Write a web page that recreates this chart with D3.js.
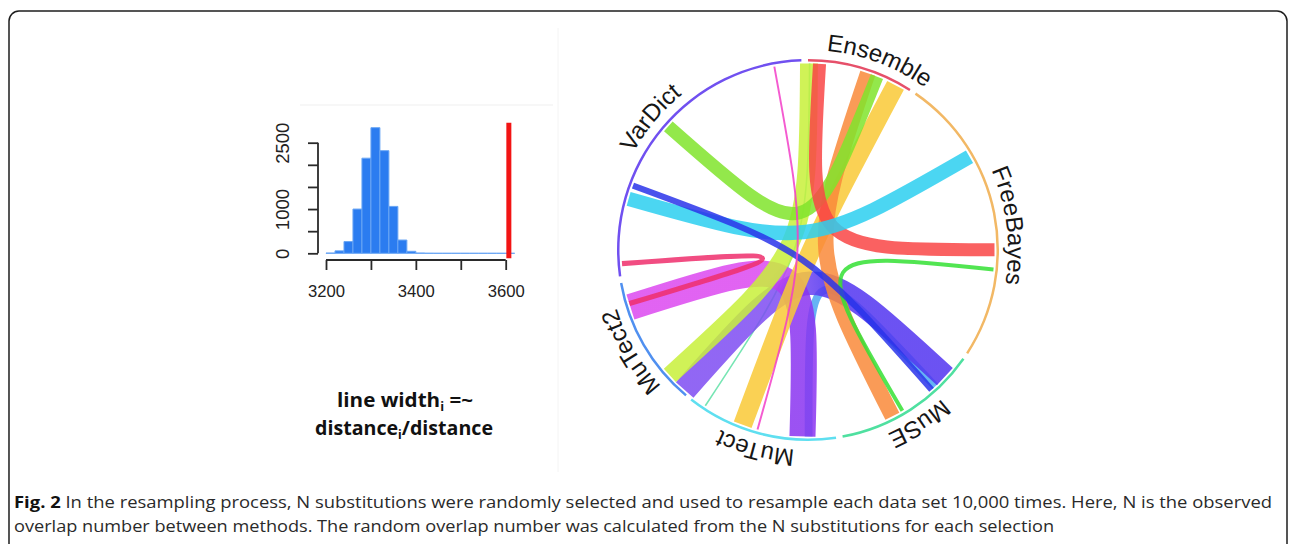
<!DOCTYPE html>
<html>
<head>
<meta charset="utf-8">
<script src="https://cdn.jsdelivr.net/npm/d3@7"></script>
<style>
  html, body { margin: 0; padding: 0; background: #ffffff; }
  svg { display: block; }
</style>
</head>
<body>
<svg id="fig" width="1295" height="544"></svg>
<script>
// ---------------- Histogram of resampled overlap numbers ----------------
const binStarts = [3200, 3220, 3240, 3260, 3280, 3300, 3320, 3340, 3360, 3380,
                   3400, 3420, 3440, 3460, 3480, 3500, 3520, 3540, 3560, 3580, 3600];
const binCounts = [6, 55, 265, 1000, 2150, 2840, 2320, 1060, 300, 45,
                   6, 1, 0, 0, 0, 0, 0, 0, 0, 0, 0];
const binWidth = 20;
const observedOverlap = 3607;
const xTicks = [3200, 3300, 3400, 3500, 3600];
const xTickLabels = ["3200", "", "3400", "", "3600"];
const yTicks = [0, 500, 1000, 1500, 2000, 2500];
const yTickLabels = ["0", "", "1000", "", "", "2500"];

// ---------------- Chord diagram between callers ----------------
const sectorNames = ["Ensemble", "FreeBayes", "MuSE", "MuTect", "MuTect2", "VarDict"];
const sectorSizes = [32.5, 88.5, 44.5, 46.5, 40, 96];   // track units (degrees)
const sectorGap = 2;

// each link: position of both ends on the circular track and its line width (track units)
const linkSource = [213.4, 137.0, 221.4, 252.2, 0.3, 28.0, 18.7, 21.7, 3.55, 60.0, 96.0, 290.2, 265.8, 349.6];
const linkTarget = [0.5, 179.8, 132.8, 181.7, 227.8, 200.5, 153.1, 311.5, 89.9, 285.9, 149.6, 138.5, 253.3, 195.7];
const linkWidth  = [0.5, 2.4, 7.2, 8.0, 5.5, 5.8, 4.8, 4.0, 4.0, 4.4, 1.2, 1.9, 1.6, 0.6];

// ---------------- styles ----------------
const sectorColors = ["#e6506a", "#f2b865", "#4fe0a0", "#5fdff0", "#5090f0", "#7050f0"];
// colour at the source end and at the target end of each link
const linkColorA = ["#5ee0a6", "#4aa6f2", "#7e4cf2", "#dc48f0", "#c8f03a", "#f9c936", "#f98a3a",
                    "#80e42c", "#f94545", "#2ccff0", "#34e034", "#2a34ea", "#ef2e6c", "#f23ec8"];
const linkColorB = ["#5ee0a6", "#4aa6f2", "#5234f0", "#8a34f0", "#c8f03a", "#f9c936", "#f98a3a",
                    "#80e42c", "#f94545", "#2ccff0", "#34e034", "#2a34ea", "#ef2e6c", "#f23ec8"];
const linkOpacity = 0.85;

const svg = d3.select("#fig");
const defs = svg.append("defs");

// outer frame
svg.append("rect")
  .attr("x", 9).attr("y", 11).attr("width", 1278).attr("height", 580)
  .attr("rx", 10).attr("ry", 10)
  .attr("fill", "none").attr("stroke", "#1e1e1e").attr("stroke-width", 1.5);

// faint panel edges
svg.append("line").attr("x1", 300).attr("x2", 553).attr("y1", 105).attr("y2", 105)
  .attr("stroke", "#efefef").attr("stroke-width", 1);
svg.append("line").attr("x1", 558).attr("x2", 558).attr("y1", 28).attr("y2", 472)
  .attr("stroke", "#f4f4f4").attr("stroke-width", 1);

// ---------------- histogram panel ----------------
const x = d3.scaleLinear().domain([3200, 3600]).range([326, 505.7]);
const y = d3.scaleLinear().domain([0, 2500]).range([253.3, 142.7]);
const yMax = d3.max(binCounts);
const yUsr = [-0.04 * yMax, 1.04 * yMax];

const hist = svg.append("g");
hist.selectAll("path.bar")
  .data(binStarts.map((s, i) => ({ s, c: binCounts[i] })))
  .join("path")
  .attr("class", "bar")
  .attr("d", d => {
    const p = d3.path();
    p.moveTo(x(d.s), y(0));
    p.lineTo(x(d.s + binWidth), y(0));
    p.lineTo(x(d.s + binWidth), y(d.c));
    p.lineTo(x(d.s), y(d.c));
    p.closePath();
    return p.toString();
  })
  .attr("fill", "#2b7cf0")
  .attr("stroke", "#6aa6f4")
  .attr("stroke-width", 1);

// observed overlap
hist.append("line")
  .attr("x1", x(observedOverlap)).attr("x2", x(observedOverlap))
  .attr("y1", y(yUsr[0])).attr("y2", y(yUsr[1]))
  .attr("stroke", "#f21414").attr("stroke-width", 5);

// axes
const xAxisY = 260;
const yAxisX = 318;
const xAxis = d3.axisBottom(x).tickValues(xTicks)
  .tickFormat((d, i) => xTickLabels[i]).tickSize(10).tickSizeOuter(0);
const gx = hist.append("g").attr("transform", `translate(0,${xAxisY})`).call(xAxis);
gx.select(".domain").attr("stroke", "#2a2a2a").attr("stroke-width", 1.8)
  .attr("d", `M${x(3200)},0H${x(3600)}`);
gx.selectAll(".tick line").attr("stroke", "#2a2a2a").attr("stroke-width", 1.8);
gx.selectAll(".tick text")
  .attr("y", 31.5).attr("dy", "0.35em")
  .attr("font-family", "'Liberation Sans', Arial, sans-serif")
  .attr("font-size", 17).attr("fill", "#222")
  .attr("textLength", 37).attr("lengthAdjust", "spacingAndGlyphs");

const yAxis = d3.axisLeft(y).tickValues(yTicks)
  .tickFormat((d, i) => yTickLabels[i]).tickSize(10).tickSizeOuter(0);
const gy = hist.append("g").attr("transform", `translate(${yAxisX},0)`).call(yAxis);
gy.select(".domain").attr("stroke", "#2a2a2a").attr("stroke-width", 1.8)
  .attr("d", `M0,${y(0)}V${y(2500)}`);
gy.selectAll(".tick line").attr("stroke", "#2a2a2a").attr("stroke-width", 1.8);
gy.selectAll(".tick text")
  .attr("x", 0).attr("y", 0).attr("dy", "0.35em")
  .attr("text-anchor", "middle")
  .attr("transform", "translate(-35,0) rotate(-90)")
  .attr("font-family", "'Liberation Sans', Arial, sans-serif")
  .attr("font-size", 18.5).attr("fill", "#222");

// formula note
const note = svg.append("g")
  .attr("font-family", "'Open Sans', Lato, sans-serif")
  .attr("font-weight", "bold").attr("font-size", 19.5).attr("fill", "#111");
const l1 = note.append("text").attr("x", 337).attr("y", 407)
  .attr("textLength", 136).attr("lengthAdjust", "spacingAndGlyphs");
l1.append("tspan").text("line width");
l1.append("tspan").attr("dy", 4).attr("font-size", 12).text("i");
l1.append("tspan").attr("dy", -4).text(" =~");
const l2 = note.append("text").attr("x", 315).attr("y", 435)
  .attr("textLength", 178).attr("lengthAdjust", "spacingAndGlyphs");
l2.append("tspan").text("distance");
l2.append("tspan").attr("dy", 4).attr("font-size", 12).text("i");
l2.append("tspan").attr("dy", -4).text("/distance");

// ---------------- chord panel ----------------
const cx = 808, cy = 250;
const trackInner = 188.5, trackOuter = 191;
const linkRadius = 186.5;
const labelRadius = 200;

const angle = d3.scaleLinear().domain([0, 360]).range([0, 2 * Math.PI]);
const sectorStart = d3.cumsum([0, ...sectorSizes.slice(0, -1)]).map((c, i) => c + i * sectorGap);
const sectors = sectorNames.map((name, i) => ({
  name, start: sectorStart[i], end: sectorStart[i] + sectorSizes[i], color: sectorColors[i]
}));

const chord = svg.append("g").attr("transform", `translate(${cx},${cy})`);

// point on a circle of radius r at a track position
const polar = (v, r) => {
  const a = angle(v) - Math.PI / 2;
  return [r * Math.cos(a), r * Math.sin(a)];
};

const links = linkSource.map((s, i) => ({
  i, s, t: linkTarget[i], w: linkWidth[i], ca: linkColorA[i], cb: linkColorB[i]
}));

// gradient from the colour at one end to the colour at the other
// (coordinates are in the chord group's own user space)
links.filter(d => d.ca !== d.cb).forEach(d => {
  const [x1, y1] = polar(d.s, linkRadius);
  const [x2, y2] = polar(d.t, linkRadius);
  const g = defs.append("linearGradient").attr("id", `lg${d.i}`)
    .attr("gradientUnits", "userSpaceOnUse")
    .attr("x1", x1).attr("y1", y1).attr("x2", x2).attr("y2", y2);
  g.append("stop").attr("offset", "0.44").attr("stop-color", d.ca);
  g.append("stop").attr("offset", "0.56").attr("stop-color", d.cb);
});

chord.append("g").selectAll("path")
  .data(links)
  .join("path")
  .attr("d", d => {
    const p = d3.path();
    const [x1, y1] = polar(d.s, linkRadius);
    const [x2, y2] = polar(d.t, linkRadius);
    p.moveTo(x1, y1);
    p.bezierCurveTo(0, 0, 0, 0, x2, y2);
    return p.toString();
  })
  .attr("fill", "none")
  .attr("stroke", d => d.ca === d.cb ? d.ca : `url(#lg${d.i})`)
  .attr("stroke-width", d => angle(d.w) * linkRadius)
  .attr("stroke-linecap", "butt")
  .attr("stroke-opacity", linkOpacity);

const trackArc = d3.arc().innerRadius(trackInner).outerRadius(trackOuter);
chord.append("g").selectAll("path")
  .data(sectors)
  .join("path")
  .attr("d", d => trackArc({ startAngle: angle(d.start), endAngle: angle(d.end) }))
  .attr("fill", d => d.color);

// curved sector labels along a clockwise circle starting at -60 units
const pathStart = -60;
const lp = d3.path();
const pa = angle(pathStart) - Math.PI / 2;
lp.moveTo(labelRadius * Math.cos(pa), labelRadius * Math.sin(pa));
lp.arc(0, 0, labelRadius, pa, pa + 2 * Math.PI);
chord.append("path").attr("id", "labelCircle").attr("d", lp.toString()).attr("fill", "none");

const labelNudge = { Ensemble: 4.3, FreeBayes: 4.3 };
chord.append("g").selectAll("text")
  .data(sectors)
  .join("text")
  .attr("font-family", "'Liberation Sans', Arial, sans-serif")
  .attr("font-size", 24).attr("fill", "#161616")
  .append("textPath")
  .attr("href", "#labelCircle")
  .attr("text-anchor", "middle")
  .attr("startOffset", d => {
    let mid = (d.start + d.end) / 2 + (labelNudge[d.name] || 0);
    if (mid - pathStart >= 360) mid -= 360;
    return (angle(mid - pathStart) * labelRadius).toFixed(2);
  })
  .text(d => d.name);

// ---------------- caption ----------------
const cap = svg.append("g")
  .attr("font-family", "'Liberation Sans Narrow', 'Open Sans', sans-serif")
  .attr("font-size", 16).attr("fill", "#2a2a2a");
const c1 = cap.append("text").attr("x", 14).attr("y", 508)
  .attr("textLength", 1258).attr("lengthAdjust", "spacingAndGlyphs");
c1.append("tspan").attr("font-weight", "bold").attr("fill", "#111").text("Fig. 2");
c1.append("tspan").text(" In the resampling process, N substitutions were randomly selected and used to resample each data set 10,000 times. Here, N is the observed");
cap.append("text").attr("x", 14).attr("y", 532)
  .attr("textLength", 1040).attr("lengthAdjust", "spacingAndGlyphs")
  .text("overlap number between methods. The random overlap number was calculated from the N substitutions for each selection");
</script>
</body>
</html>
